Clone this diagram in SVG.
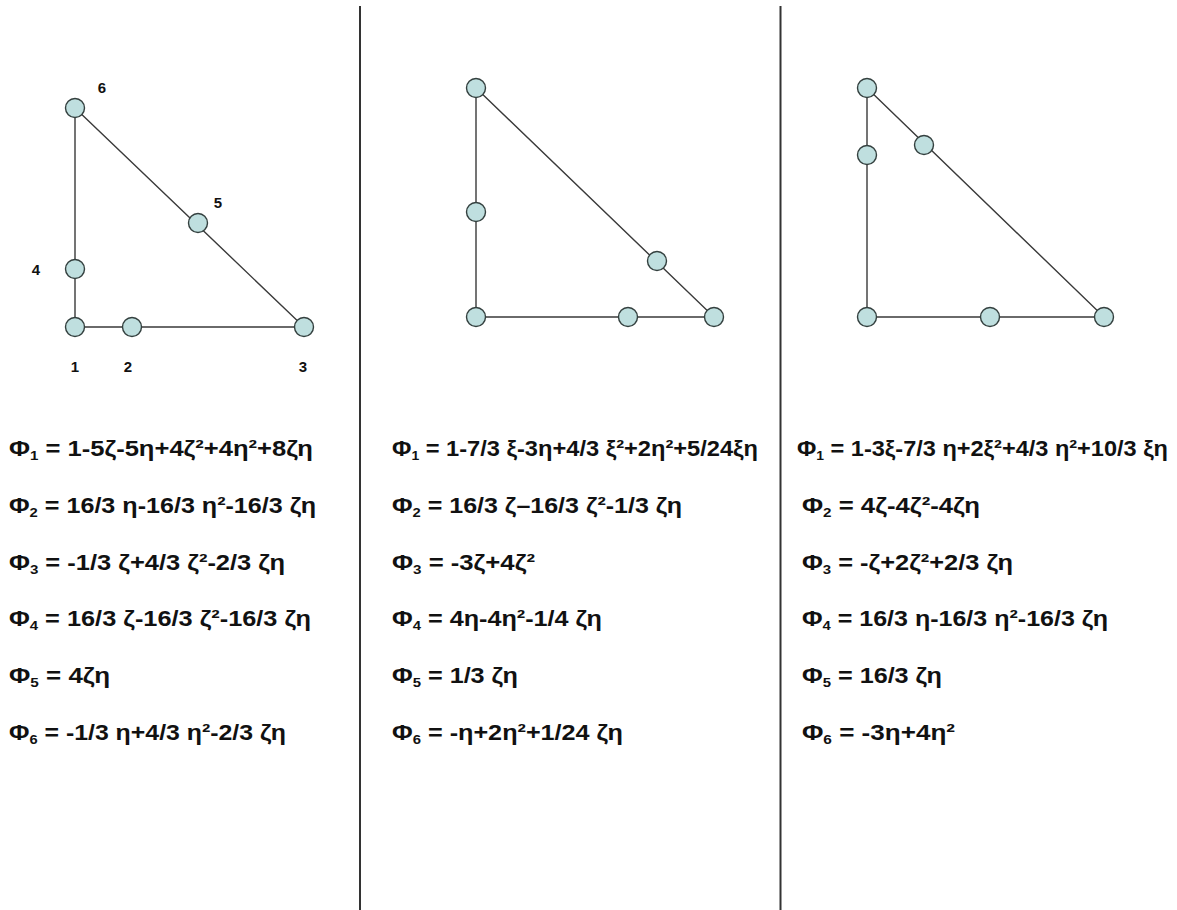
<svg xmlns="http://www.w3.org/2000/svg" width="1177" height="910" viewBox="0 0 1177 910">
<style>
.edge{stroke:#3a3a3a;stroke-width:1.4;fill:none}
.div{stroke:#333;stroke-width:2}
.nd{fill:#bfdfdf;stroke:#34403f;stroke-width:1.4}
.lbl{font-family:"Liberation Sans",Arial,sans-serif;font-weight:bold;font-size:15px;fill:#111;text-anchor:middle}
.eq{font-family:"Liberation Sans",Arial,sans-serif;font-weight:bold;font-size:22px;fill:#111}
.sub{font-size:13px}
</style>
<rect width="1177" height="910" fill="#fff"/>
<g id="dividers">
<line class="div" x1="360" y1="6" x2="360" y2="910"/>
<line class="div" x1="780.5" y1="6" x2="780.5" y2="910"/>
</g>
<g id="connectors">
<polyline class="edge" points="75,108 75,327 304,327 75,108"/>
<polyline class="edge" points="476,88 476,317 714,317 476,88"/>
<polyline class="edge" points="867,88 867,317 1104,317 867,88"/>
</g>
<g id="t1-n1"><circle class="nd" cx="75" cy="327" r="9.5"/><text class="lbl" x="75" y="372">1</text></g>
<g id="t1-n2"><circle class="nd" cx="132" cy="327" r="9.5"/><text class="lbl" x="128" y="372">2</text></g>
<g id="t1-n3"><circle class="nd" cx="304" cy="327" r="9.5"/><text class="lbl" x="303" y="372">3</text></g>
<g id="t1-n4"><circle class="nd" cx="75" cy="269" r="9.5"/><text class="lbl" x="36" y="275">4</text></g>
<g id="t1-n5"><circle class="nd" cx="198" cy="223" r="9.5"/><text class="lbl" x="218" y="208">5</text></g>
<g id="t1-n6"><circle class="nd" cx="75" cy="108" r="9.5"/><text class="lbl" x="102" y="93">6</text></g>
<g id="t2-n1"><circle class="nd" cx="476" cy="317" r="9.5"/></g>
<g id="t2-n2"><circle class="nd" cx="628" cy="317" r="9.5"/></g>
<g id="t2-n3"><circle class="nd" cx="714" cy="317" r="9.5"/></g>
<g id="t2-n4"><circle class="nd" cx="476" cy="212" r="9.5"/></g>
<g id="t2-n5"><circle class="nd" cx="657" cy="261" r="9.5"/></g>
<g id="t2-n6"><circle class="nd" cx="476" cy="88" r="9.5"/></g>
<g id="t3-n1"><circle class="nd" cx="867" cy="317" r="9.5"/></g>
<g id="t3-n2"><circle class="nd" cx="990" cy="317" r="9.5"/></g>
<g id="t3-n3"><circle class="nd" cx="1104" cy="317" r="9.5"/></g>
<g id="t3-n4"><circle class="nd" cx="867" cy="155" r="9.5"/></g>
<g id="t3-n5"><circle class="nd" cx="924" cy="145" r="9.5"/></g>
<g id="t3-n6"><circle class="nd" cx="867" cy="88" r="9.5"/></g>
<g id="eq-col1">
<text class="eq" x="9" y="456" textLength="304" lengthAdjust="spacingAndGlyphs">Φ<tspan class="sub" dy="4">1</tspan><tspan dy="-4"> = 1-5ζ-5η+4ζ²+4η²+8ζη</tspan></text>
<text class="eq" x="9" y="513" textLength="307" lengthAdjust="spacingAndGlyphs">Φ<tspan class="sub" dy="4">2</tspan><tspan dy="-4"> = 16/3 η-16/3 η²-16/3 ζη</tspan></text>
<text class="eq" x="9" y="570" textLength="276" lengthAdjust="spacingAndGlyphs">Φ<tspan class="sub" dy="4">3</tspan><tspan dy="-4"> = -1/3 ζ+4/3 ζ²-2/3 ζη</tspan></text>
<text class="eq" x="9" y="626" textLength="302" lengthAdjust="spacingAndGlyphs">Φ<tspan class="sub" dy="4">4</tspan><tspan dy="-4"> = 16/3 ζ-16/3 ζ²-16/3 ζη</tspan></text>
<text class="eq" x="9" y="683" textLength="101" lengthAdjust="spacingAndGlyphs">Φ<tspan class="sub" dy="4">5</tspan><tspan dy="-4"> = 4ζη</tspan></text>
<text class="eq" x="9" y="740" textLength="277" lengthAdjust="spacingAndGlyphs">Φ<tspan class="sub" dy="4">6</tspan><tspan dy="-4"> = -1/3 η+4/3 η²-2/3 ζη</tspan></text>
</g>
<g id="eq-col2">
<text class="eq" x="392" y="456" textLength="366" lengthAdjust="spacingAndGlyphs">Φ<tspan class="sub" dy="4">1</tspan><tspan dy="-4"> = 1-7/3 ξ-3η+4/3 ξ²+2η²+5/24ξη</tspan></text>
<text class="eq" x="392" y="513" textLength="290" lengthAdjust="spacingAndGlyphs">Φ<tspan class="sub" dy="4">2</tspan><tspan dy="-4"> = 16/3 ζ–16/3 ζ²-1/3 ζη</tspan></text>
<text class="eq" x="392" y="570" textLength="143" lengthAdjust="spacingAndGlyphs">Φ<tspan class="sub" dy="4">3</tspan><tspan dy="-4"> = -3ζ+4ζ²</tspan></text>
<text class="eq" x="392" y="626" textLength="210" lengthAdjust="spacingAndGlyphs">Φ<tspan class="sub" dy="4">4</tspan><tspan dy="-4"> = 4η-4η²-1/4 ζη</tspan></text>
<text class="eq" x="392" y="683" textLength="126" lengthAdjust="spacingAndGlyphs">Φ<tspan class="sub" dy="4">5</tspan><tspan dy="-4"> = 1/3 ζη</tspan></text>
<text class="eq" x="392" y="740" textLength="231" lengthAdjust="spacingAndGlyphs">Φ<tspan class="sub" dy="4">6</tspan><tspan dy="-4"> = -η+2η²+1/24 ζη</tspan></text>
</g>
<g id="eq-col3">
<text class="eq" x="797" y="456" textLength="371" lengthAdjust="spacingAndGlyphs">Φ<tspan class="sub" dy="4">1</tspan><tspan dy="-4"> = 1-3ξ-7/3 η+2ξ²+4/3 η²+10/3 ξη</tspan></text>
<text class="eq" x="802" y="513" textLength="178" lengthAdjust="spacingAndGlyphs">Φ<tspan class="sub" dy="4">2</tspan><tspan dy="-4"> = 4ζ-4ζ²-4ζη</tspan></text>
<text class="eq" x="802" y="570" textLength="211" lengthAdjust="spacingAndGlyphs">Φ<tspan class="sub" dy="4">3</tspan><tspan dy="-4"> = -ζ+2ζ²+2/3 ζη</tspan></text>
<text class="eq" x="802" y="626" textLength="306" lengthAdjust="spacingAndGlyphs">Φ<tspan class="sub" dy="4">4</tspan><tspan dy="-4"> = 16/3 η-16/3 η²-16/3 ζη</tspan></text>
<text class="eq" x="802" y="683" textLength="140" lengthAdjust="spacingAndGlyphs">Φ<tspan class="sub" dy="4">5</tspan><tspan dy="-4"> = 16/3 ζη</tspan></text>
<text class="eq" x="802" y="740" textLength="153" lengthAdjust="spacingAndGlyphs">Φ<tspan class="sub" dy="4">6</tspan><tspan dy="-4"> = -3η+4η²</tspan></text>
</g>
</svg>
